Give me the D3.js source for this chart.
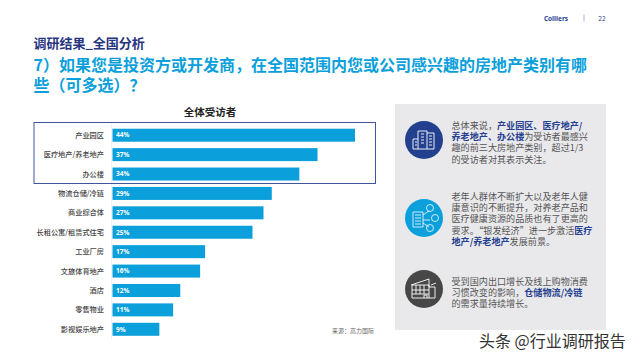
<!DOCTYPE html>
<html>
<head>
<meta charset="utf-8">
<script src="https://cdn.jsdelivr.net/npm/d3@7/dist/d3.min.js"></script>
<style>
html, body { margin: 0; padding: 0; background: #fff; }
svg { display: block; font-family: "Noto Sans CJK SC", "Noto Sans", sans-serif; }
</style>
</head>
<body>
<div id="chart"></div>
<script>
const categories = ['产业园区', '医疗地产/养老地产', '办公楼', '物流仓储/冷链', '商业综合体', '长租公寓/租赁式住宅', '工业厂房', '文旅体育地产', '酒店', '零售物业', '影视娱乐地产']
// the labels show them rounded
const values = [44, 37.2, 33.9, 28.9, 27.4, 25.4, 16.8, 15.9, 12.3, 11, 8.5]

const heading = '调研结果_全国分析'
const titleLines = ['7）如果您是投资方或开发商，在全国范围内您或公司感兴趣的房地产类别有哪', '些（可多选）？']
const chartTitle = '全体受访者'
const sourceNote = '来源：高力国际'
const watermark = '头条 @行业调研报告'

// each line is a list of [text, highlighted]
const note1 = [
    [['总体来说，', 0], ['产业园区、医疗地产/', 1]],
    [['养老地产、办公楼', 1], ['为受访者最感兴', 0]],
    [['趣的前三大房地产类别，超过1/3', 0]],
    [['的受访者对其表示关注。', 0]]
]
const note2 = [
    [['老年人群体不断扩大以及老年人健', 0]],
    [['康意识的不断提升，对养老产品和', 0]],
    [['医疗健康资源的品质也有了更高的', 0]],
    [['要求。“银发经济”进一步激活', 0], ['医疗', 1]],
    [['地产/养老地产', 1], ['发展前景。', 0]]
]
const note3 = [
    [['受到国内出口增长及线上购物消费', 0]],
    [['习惯改变的影响，', 0], ['仓储物流/冷链', 1]],
    [['的需求量持续增长。', 0]]
]

const navy = '#25408f'
const blue = '#0b9fdb'
const grey = '#555'

const svg = d3.select('#chart').append('svg')
    .attr('width', 640)
    .attr('height', 360)

// header
svg.append('text').text('Colliers')
    .attr('x', 556).attr('y', 20.5)
    .attr('font-family', 'Open Sans').attr('font-weight', 700)
    .attr('font-size', 6.5).attr('text-anchor', 'middle').attr('fill', navy)
svg.append('line')
    .attr('x1', 584).attr('x2', 584).attr('y1', 14.5).attr('y2', 21.5)
    .attr('stroke', '#9aa5c8').attr('stroke-width', 0.8)
svg.append('text').text('22')
    .attr('x', 602).attr('y', 20.5)
    .attr('font-family', 'Open Sans')
    .attr('font-size', 6.5).attr('text-anchor', 'middle').attr('fill', navy)

svg.append('text').text(heading)
    .attr('x', 33.5).attr('y', 47.5)
    .attr('font-size', 13).attr('font-weight', 700).attr('fill', '#27347f')

svg.append('text').selectAll('tspan')
    .data(titleLines)
    .join('tspan')
    .text(d => d)
    .attr('x', 33.5)
    .attr('y', (d, i) => 70.5 + i * 20.5)
    .attr('font-size', 16).attr('font-weight', 700).attr('fill', blue)

// bar chart
const x = d3.scaleLinear().domain([0, 44]).range([112.5, 355])
const y = d3.scaleBand().domain(categories).range([125.5, 339]).paddingInner(0.33).paddingOuter(0.165)

svg.append('text').text(chartTitle)
    .attr('x', 210).attr('y', 116)
    .attr('text-anchor', 'middle')
    .attr('font-size', 10.5).attr('font-weight', 700).attr('fill', '#222')

svg.append('line')
    .attr('x1', 111.5).attr('x2', 111.5).attr('y1', 122).attr('y2', 339)
    .attr('stroke', '#e8e8e8').attr('stroke-width', 0.7)

svg.append('g').selectAll('rect')
    .data(values)
    .join('rect')
    .attr('x', x(0))
    .attr('y', (d, i) => y(categories[i]))
    .attr('width', d => x(d) - x(0))
    .attr('height', y.bandwidth())
    .attr('fill', blue)

svg.append('g').selectAll('text')
    .data(values)
    .join('text')
    .text(d => Math.round(d) + '%')
    .attr('x', x(0) + 3.5)
    .attr('y', (d, i) => y(categories[i]) + y.bandwidth() / 2)
    .attr('dy', '0.35em')
    .attr('font-family', 'Open Sans').attr('font-weight', 700)
    .attr('font-size', 6.5).attr('fill', '#fff')

svg.append('g').selectAll('text')
    .data(categories)
    .join('text')
    .text(d => d)
    .attr('x', 104)
    .attr('y', d => y(d) + y.bandwidth() / 2)
    .attr('dy', '0.35em')
    .attr('text-anchor', 'end')
    .attr('font-size', 7.2).attr('font-weight', 500).attr('fill', '#444')

// frame round the top three
svg.append('rect')
    .attr('x', 34).attr('y', 122.5)
    .attr('width', 341.5).attr('height', 61)
    .attr('fill', 'none').attr('stroke', '#3f569f').attr('stroke-width', 1)

svg.append('text').text(sourceNote)
    .attr('x', 332).attr('y', 333)
    .attr('font-size', 6).attr('fill', '#666')

// side panel
svg.append('rect')
    .attr('x', 395).attr('y', 104)
    .attr('width', 211).attr('height', 226)
    .attr('fill', '#e9e9ec')

// one text per note, a positioned tspan starts each line
function drawNote(lines, top) {
    const runs = lines.flatMap((line, i) => line.map((run, j) => ({ run, i, j })))
    svg.append('text')
        .attr('font-size', 9.1)
        .selectAll('tspan')
        .data(runs)
        .join('tspan')
        .text(d => d.run[0])
        .attr('x', d => d.j === 0 ? 451.5 : null)
        .attr('y', d => d.j === 0 ? top + d.i * 11.2 : null)
        .attr('font-weight', d => d.run[1] ? 700 : 400)
        .attr('fill', d => d.run[1] ? navy : grey)
}
drawNote(note1, 129)
drawNote(note2, 200)
drawNote(note3, 284.5)

// icons
const icon1 = svg.append('g').attr('transform', 'translate(424,140)')
icon1.append('circle').attr('r', 19).attr('fill', '#23408f')
icon1.append('path')
    .attr('d', 'M-11,9V-1H-6V-9H3V-7H10V9ZM-6,-1V9M3,-7V9M-9,2H-7M-9,5H-7M-3,-6H0M-3,-3H0M-3,0H0M-3,3H0M5,-4H8M5,-1H8M5,2H8M5,5H8')
    .attr('fill', 'none').attr('stroke', '#fff').attr('stroke-width', 0.9)

const icon2 = svg.append('g').attr('transform', 'translate(424,218)')
icon2.append('circle').attr('r', 19).attr('fill', blue)
icon2.append('path')
    .attr('d', 'M-11,9V-6H-1V9ZM-9,-3H-3M-9,0H-3M-9,3H-3M-9,6H-3M-1,-3L5,-7M-1,2H6M-1,5L5,9')
    .attr('fill', 'none').attr('stroke', '#fff').attr('stroke-width', 0.8)
icon2.selectAll('circle.person')
    .data([[6, -10], [11, 0], [6, 10]])
    .join('circle')
    .attr('class', 'person')
    .attr('cx', d => d[0]).attr('cy', d => d[1]).attr('r', 3.5)
    .attr('fill', 'none').attr('stroke', '#fff').attr('stroke-width', 0.8)

const icon3 = svg.append('g').attr('transform', 'translate(424,289)')
icon3.append('circle').attr('r', 19).attr('fill', '#474747')
icon3.append('path')
    .attr('d', 'M-13,-4L5,-10V-4M-12,-4V9H11V-2H5V-4H-12M-12,1H5M-8,-4V5M-4,-4V5M0,-4V5M5,-4V9M-12,5H5M7,-4L12,-6M0,9V6H3V9')
    .attr('fill', 'none').attr('stroke', '#fff').attr('stroke-width', 0.9)

svg.append('text').text(watermark)
    .attr('x', 479).attr('y', 347)
    .attr('font-size', 16).attr('fill', '#333')
    .attr('stroke', '#fff').attr('stroke-width', 2).attr('paint-order', 'stroke')
</script>
</body>
</html>
